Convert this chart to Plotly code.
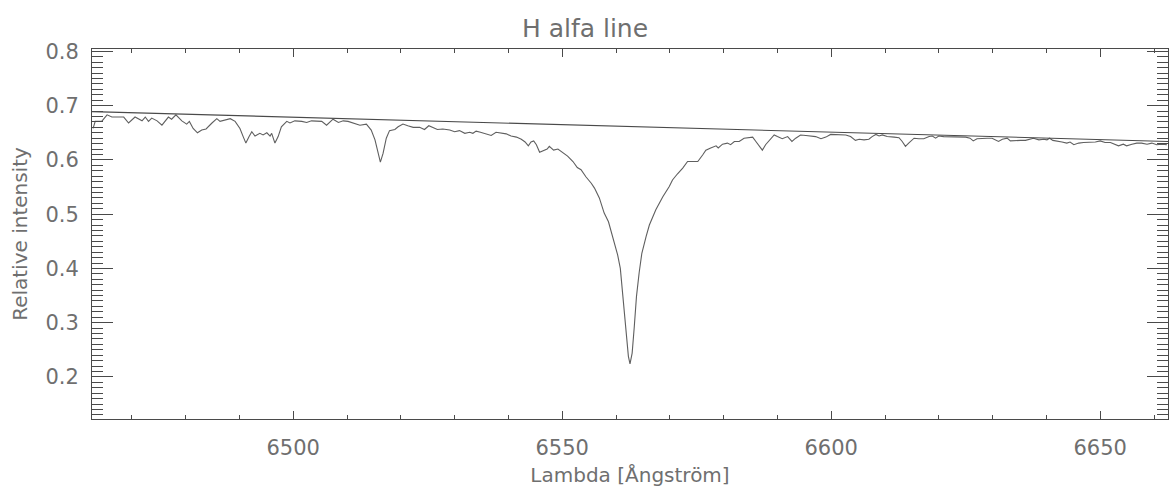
import plotly.graph_objects as go

# Spectrum (wavelength in Angstrom, relative intensity)
wavelength = [
    6462.8, 6463.2, 6464.4, 6465.4, 6466.3, 6468.5, 6469.4, 6470.6, 6471.9, 6472.5,
    6473.1, 6473.7, 6474.7, 6475.6, 6476.8, 6477.4, 6478.2, 6479.3, 6480.2, 6480.7,
    6481.4, 6482.2, 6483.0, 6483.8, 6484.9, 6485.8, 6486.4, 6487.3, 6488.3, 6489.2,
    6490.1, 6490.7, 6491.2, 6491.8, 6492.3, 6492.9, 6493.8, 6494.4, 6495.1, 6495.7,
    6496.0, 6496.6, 6497.2, 6497.8, 6498.8, 6499.4, 6500.3, 6501.6, 6502.5, 6503.4,
    6504.3, 6505.3, 6506.2, 6507.4, 6508.4, 6509.3, 6510.2, 6511.1, 6512.1, 6512.4,
    6513.6, 6514.5, 6515.2, 6515.8, 6516.2, 6516.7, 6517.3, 6517.9, 6518.9, 6519.5,
    6520.4, 6521.3, 6522.3, 6523.5, 6524.4, 6525.2, 6526.0, 6526.8, 6527.8, 6529.1,
    6530.0, 6530.9, 6531.9, 6532.8, 6533.4, 6534.0, 6534.8, 6535.9, 6536.8, 6537.7,
    6538.7, 6539.6, 6540.5, 6541.5, 6542.4, 6543.1, 6543.7, 6544.2, 6544.7, 6545.2,
    6545.8, 6546.4, 6547.2, 6547.6, 6548.4, 6549.2, 6550.1, 6551.0, 6552.0, 6552.8,
    6553.5, 6554.4, 6555.4, 6556.0, 6556.9, 6557.8, 6558.6, 6559.4, 6560.3, 6560.8,
    6561.1, 6561.6, 6562.0, 6562.3, 6562.6, 6563.0, 6563.4, 6563.8, 6564.3, 6564.8,
    6565.6, 6566.2, 6567.4, 6568.7, 6569.9, 6570.5, 6571.4, 6572.4, 6573.3, 6574.2,
    6575.2, 6576.1, 6576.7, 6577.6, 6578.6, 6579.0, 6579.8, 6580.7, 6581.3, 6582.0,
    6582.9, 6583.8, 6584.7, 6585.4, 6586.0, 6586.6, 6587.2, 6587.8, 6588.8, 6589.4,
    6590.0, 6590.9, 6591.9, 6592.7, 6593.4, 6594.3, 6595.3, 6596.2, 6597.1, 6598.1,
    6599.0, 6599.9, 6600.8, 6601.8, 6602.7, 6603.6, 6604.5, 6605.2, 6606.1, 6607.0,
    6607.6, 6608.3, 6608.9, 6609.5, 6610.4, 6611.7, 6612.6, 6613.2, 6613.8, 6614.4,
    6615.4, 6616.3, 6617.2, 6618.2, 6618.8, 6619.4, 6620.0, 6620.9, 6621.9, 6622.8,
    6624.0, 6625.0, 6625.8, 6626.4, 6627.1, 6628.0, 6629.0, 6629.9, 6630.5, 6631.1,
    6631.8, 6632.7, 6633.3, 6634.2, 6635.2, 6636.1, 6637.0, 6637.6, 6638.6, 6639.5,
    6640.1, 6640.6, 6641.2, 6642.0, 6642.9, 6643.8, 6644.4, 6645.1, 6646.0, 6646.9,
    6648.1, 6649.1, 6650.0, 6650.9, 6651.9, 6652.5, 6653.4, 6654.3, 6654.9, 6655.9,
    6656.8, 6657.7, 6658.7, 6659.6, 6660.5, 6661.4, 6662.4,
]
intensity = [
    0.658, 0.671, 0.671, 0.683, 0.679, 0.679, 0.668, 0.679, 0.672, 0.679,
    0.671, 0.677, 0.672, 0.664, 0.679, 0.675, 0.683, 0.672, 0.666, 0.671,
    0.658, 0.650, 0.655, 0.657, 0.668, 0.676, 0.671, 0.674, 0.676, 0.671,
    0.658, 0.643, 0.631, 0.643, 0.652, 0.644, 0.649, 0.646, 0.650, 0.644,
    0.649, 0.631, 0.643, 0.661, 0.671, 0.668, 0.672, 0.671, 0.669, 0.672,
    0.671, 0.671, 0.664, 0.675, 0.669, 0.672, 0.671, 0.668, 0.664, 0.664,
    0.666, 0.655, 0.637, 0.609, 0.596, 0.612, 0.640, 0.654, 0.656, 0.661,
    0.666, 0.663, 0.660, 0.660, 0.656, 0.663, 0.660, 0.656, 0.657, 0.655,
    0.652, 0.654, 0.649, 0.651, 0.649, 0.653, 0.651, 0.648, 0.645, 0.651,
    0.649, 0.648, 0.644, 0.642, 0.638, 0.633, 0.626, 0.633, 0.635, 0.628,
    0.614, 0.617, 0.620, 0.625, 0.618, 0.620, 0.614, 0.607, 0.597, 0.586,
    0.582, 0.569, 0.557, 0.548, 0.530, 0.502, 0.486, 0.459, 0.425, 0.400,
    0.366, 0.320, 0.274, 0.238, 0.224, 0.244, 0.293, 0.348, 0.392, 0.428,
    0.459, 0.480, 0.508, 0.532, 0.551, 0.563, 0.574, 0.585, 0.597, 0.597,
    0.597, 0.609, 0.618, 0.622, 0.626, 0.622, 0.629, 0.631, 0.628, 0.634,
    0.634, 0.640, 0.641, 0.642, 0.634, 0.625, 0.618, 0.628, 0.640, 0.646,
    0.643, 0.639, 0.643, 0.634, 0.640, 0.646, 0.645, 0.644, 0.643, 0.639,
    0.642, 0.647, 0.647, 0.647, 0.646, 0.643, 0.636, 0.638, 0.637, 0.638,
    0.643, 0.647, 0.644, 0.646, 0.643, 0.642, 0.641, 0.634, 0.625, 0.631,
    0.640, 0.639, 0.639, 0.643, 0.644, 0.640, 0.644, 0.643, 0.643, 0.643,
    0.643, 0.642, 0.640, 0.635, 0.639, 0.640, 0.640, 0.640, 0.637, 0.634,
    0.638, 0.640, 0.635, 0.636, 0.636, 0.636, 0.638, 0.640, 0.637, 0.638,
    0.637, 0.640, 0.636, 0.634, 0.633, 0.631, 0.633, 0.628, 0.631, 0.632,
    0.632, 0.633, 0.635, 0.632, 0.632, 0.629, 0.626, 0.629, 0.626, 0.629,
    0.631, 0.631, 0.629, 0.631, 0.628, 0.629, 0.628,
]

# Fitted continuum (straight line across the window)
continuum_wavelength = [6462.6, 6662.6]
continuum_intensity = [0.689, 0.634]

x_range = [6462.6, 6662.6]
y_range = [0.1225, 0.8044]
x_ticks = [6500, 6550, 6600, 6650]
y_ticks = [0.2, 0.3, 0.4, 0.5, 0.6, 0.7, 0.8]

title_text = "H alfa line"
x_title = "Lambda [Ångström]"
y_title = "Relative intensity"

FONT = "DejaVu Sans"
TEXT = "#6f6f6f"
AXIS = "#4a4a4a"

fig = go.Figure()
fig.add_trace(go.Scatter(x=wavelength, y=intensity, mode="lines",
                         line=dict(color="#5f5f5f", width=1.1), showlegend=False,
                         hoverinfo="skip"))
fig.add_trace(go.Scatter(x=continuum_wavelength, y=continuum_intensity, mode="lines",
                         line=dict(color="#4a4a4a", width=1.1), showlegend=False,
                         hoverinfo="skip"))

fig.update_layout(
    width=1169, height=493,
    margin=dict(l=92, r=1, t=49, b=74),
    paper_bgcolor="white", plot_bgcolor="white",
    font=dict(family=FONT, color=TEXT, size=21),
    title=dict(text=title_text, xref="container", x=585 / 1169,
               y=1 - 28 / 493, yref="container",
               xanchor="center", yanchor="middle",
               font=dict(family=FONT, size=25, color=TEXT)),
)

fig.update_xaxes(
    range=x_range, tickvals=x_ticks, ticktext=[str(v) for v in x_ticks],
    showgrid=False, zeroline=False,
    showline=True, linecolor=AXIS, linewidth=1, mirror="allticks",
    ticks="inside", ticklen=8, tickwidth=1, tickcolor=AXIS,
    ticklabelstandoff=10,
    tickfont=dict(family=FONT, size=21, color=TEXT),
    minor=dict(ticks="inside", dtick=10, tick0=6500, ticklen=4, tickwidth=1,
               tickcolor=AXIS, showgrid=False),
    title=dict(text=x_title, standoff=8, font=dict(family=FONT, size=20, color=TEXT)),
)
fig.update_yaxes(
    range=y_range, tickvals=y_ticks, ticktext=[f"{v:.1f}" for v in y_ticks],
    showgrid=False, zeroline=False,
    showline=True, linecolor=AXIS, linewidth=1, mirror="allticks",
    ticks="inside", ticklen=21, tickwidth=1, tickcolor=AXIS,
    ticklabelstandoff=8,
    tickfont=dict(family=FONT, size=21, color=TEXT),
    minor=dict(ticks="inside", dtick=0.01, tick0=0.2, ticklen=11, tickwidth=1,
               tickcolor=AXIS, showgrid=False),
    title=dict(text=y_title, standoff=12, font=dict(family=FONT, size=20, color=TEXT)),
)

fig.write_html("out.html")
